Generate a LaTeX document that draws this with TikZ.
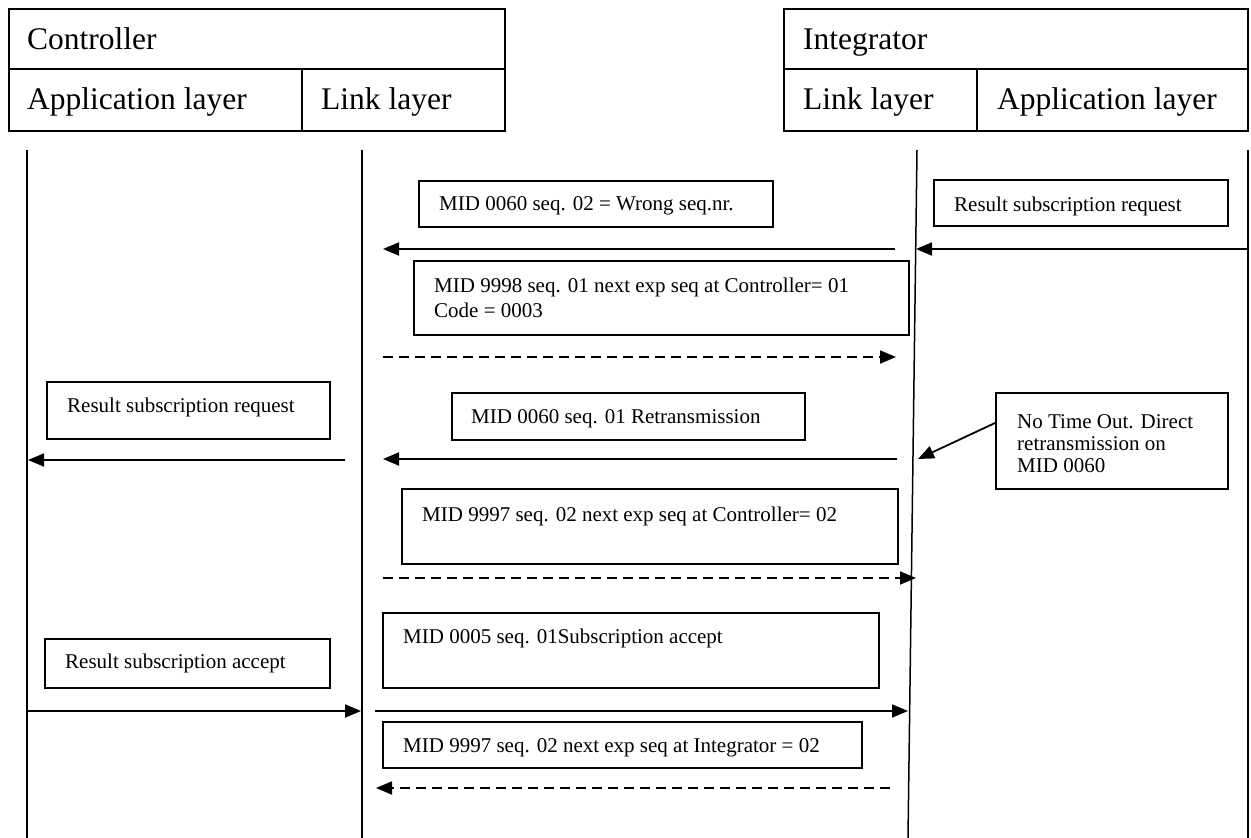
\documentclass[tikz,border=0pt]{standalone}
\usepackage{fontspec}
\setmainfont{Liberation Serif}
\usetikzlibrary{arrows.meta}
\begin{document}
\begin{tikzpicture}[x=1pt,y=-1pt,
  hdr/.style={draw,line width=1.6pt,inner sep=0pt,anchor=north west},
  msgbox/.style={draw,line width=1.8pt,inner sep=0pt,anchor=north west},
  htext/.style={anchor=base west,inner sep=0pt,font=\fontsize{31.5}{38}\selectfont},
  mtext/.style={anchor=base west,inner sep=0pt,font=\fontsize{21}{23}\selectfont},
  life/.style={line width=1.5pt},
  msg/.style={line width=1.8pt,-{Triangle[length=16pt,width=13pt]}},
  ack/.style={msg,dash pattern=on 10pt off 6pt}]
\useasboundingbox (0,0) rectangle (1251,838);

% headers
\node[hdr,minimum width=496pt,minimum height=60pt] (ctrl) at (8,8) {};
\node[hdr,minimum width=293pt,minimum height=62pt] (capp) at (8,68) {};
\node[hdr,minimum width=203pt,minimum height=62pt] (clink) at (301,68) {};
\node[hdr,minimum width=464pt,minimum height=60pt] (integ) at (783,8) {};
\node[hdr,minimum width=193pt,minimum height=62pt] (ilink) at (783,68) {};
\node[hdr,minimum width=271pt,minimum height=62pt] (iapp) at (976,68) {};
\node[htext] (tctrl) at (27,49) {Controller};
\node[htext] (tcapp) at (27,109) {Application layer};
\node[htext] (tclink) at (321,109) {Link layer};
\node[htext] (tinteg) at (803,49) {Integrator};
\node[htext] (tilink) at (803,109) {Link layer};
\node[htext] (tiapp) at (997,109) {Application layer};

% lifelines
\coordinate (caT) at (27,150);   \coordinate (caB) at (27,838);
\coordinate (clT) at (362,150);  \coordinate (clB) at (362,838);
\coordinate (ilT) at (917,150);  \coordinate (ilB) at (908,838);
\coordinate (iaT) at (1248,150); \coordinate (iaB) at (1248,838);
\draw[life] (caT) -- (caB);
\draw[life] (clT) -- (clB);
\draw[life] (ilT) -- (ilB);
\draw[life] (iaT) -- (iaB);

% message boxes
\node[msgbox,minimum width=354pt,minimum height=46pt] (b1) at (418,180) {};
\node[mtext] (t1) at (439,210) {MID 0060 seq. 02 = Wrong seq.nr.};
\node[msgbox,minimum width=294pt,minimum height=46pt] (b2) at (933,179) {};
\node[mtext] (t2) at (954,211) {Result subscription request};
\node[msgbox,minimum width=495pt,minimum height=74pt] (b3) at (413,260) {};
\node[mtext] (t3a) at (434,292) {MID 9998 seq. 01 next exp seq at Controller= 01};
\node[mtext] (t3b) at (434,317) {Code = 0003};
\node[msgbox,minimum width=283pt,minimum height=57pt] (b4) at (46,381) {};
\node[mtext] (t4) at (67,412) {Result subscription request};
\node[msgbox,minimum width=353pt,minimum height=47pt] (b5) at (451,392) {};
\node[mtext] (t5) at (471,423) {MID 0060 seq. 01 Retransmission};
\node[msgbox,minimum width=232pt,minimum height=96pt] (b6) at (995,392) {};
\node[mtext] (t6a) at (1017,428) {No Time Out. Direct};
\node[mtext] (t6b) at (1017,450) {retransmission on};
\node[mtext] (t6c) at (1017,472) {MID 0060};
\node[msgbox,minimum width=496pt,minimum height=75pt] (b7) at (401,488) {};
\node[mtext] (t7) at (422,521) {MID 9997 seq. 02 next exp seq at Controller= 02};
\node[msgbox,minimum width=496pt,minimum height=75pt] (b8) at (382,612) {};
\node[mtext] (t8) at (403,643) {MID 0005 seq. 01Subscription accept};
\node[msgbox,minimum width=285pt,minimum height=49pt] (b9) at (44,638) {};
\node[mtext] (t9) at (65,668) {Result subscription accept};
\node[msgbox,minimum width=479pt,minimum height=46pt] (b10) at (382,721) {};
\node[mtext] (t10) at (403,752) {MID 9997 seq. 02 next exp seq at Integrator = 02};

% arrow end points
\coordinate (a1s) at (895,249);  \coordinate (a1e) at (383,249);
\coordinate (a2s) at (1248,249); \coordinate (a2e) at (916,249);
\coordinate (a3s) at (383,357);  \coordinate (a3e) at (896,357);
\coordinate (a4s) at (345,460);  \coordinate (a4e) at (28,460);
\coordinate (a5s) at (897,459);  \coordinate (a5e) at (383,459);
\coordinate (a6s) at (995,423);  \coordinate (a6e) at (918,459);
\coordinate (a7s) at (383,578);  \coordinate (a7e) at (916,578);
\coordinate (a8s) at (27,711);   \coordinate (a8e) at (361,711);
\coordinate (a9s) at (375,711);  \coordinate (a9e) at (908,711);
\coordinate (a10s) at (890,788); \coordinate (a10e) at (376,788);

\draw[msg] (a1s) -- (a1e);
\draw[msg] (a2s) -- (a2e);
\draw[ack] (a3s) -- (a3e);
\draw[msg] (a4s) -- (a4e);
\draw[msg] (a5s) -- (a5e);
\draw[msg] (a6s) -- (a6e);
\draw[ack] (a7s) -- (a7e);
\draw[msg] (a8s) -- (a8e);
\draw[msg] (a9s) -- (a9e);
\draw[ack] (a10s) -- (a10e);
\end{tikzpicture}
\end{document}
